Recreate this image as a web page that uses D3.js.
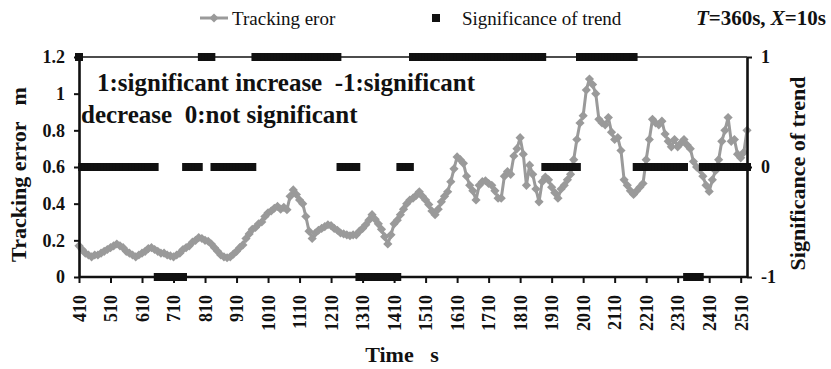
<!DOCTYPE html>
<html><head><meta charset="utf-8">
<script src="https://cdn.jsdelivr.net/npm/d3@7"></script>
<style>body{margin:0;background:#fff}svg{display:block}text{font-family:"Liberation Serif","Times New Roman",serif}</style>
</head><body><svg id="c" width="831" height="369"></svg>
<script>
const times = [
410,420,430,440,450,460,470,480,490,500,
510,520,530,540,550,560,570,580,590,600,
610,620,630,640,650,660,670,680,690,700,
710,720,730,740,750,760,770,780,790,800,
810,820,830,840,850,860,870,880,890,900,
910,920,930,940,950,960,970,980,990,1000,
1010,1020,1030,1040,1050,1060,1070,1080,1090,1100,
1110,1120,1130,1140,1150,1160,1170,1180,1190,1200,
1210,1220,1230,1240,1250,1260,1270,1280,1290,1300,
1310,1320,1330,1340,1350,1360,1370,1380,1390,1400,
1410,1420,1430,1440,1450,1460,1470,1480,1490,1500,
1510,1520,1530,1540,1550,1560,1570,1580,1590,1600,
1610,1620,1630,1640,1650,1660,1670,1680,1690,1700,
1710,1720,1730,1740,1750,1760,1770,1780,1790,1800,
1810,1820,1830,1840,1850,1860,1870,1880,1890,1900,
1910,1920,1930,1940,1950,1960,1970,1980,1990,2000,
2010,2020,2030,2040,2050,2060,2070,2080,2090,2100,
2110,2120,2130,2140,2150,2160,2170,2180,2190,2200,
2210,2220,2230,2240,2250,2260,2270,2280,2290,2300,
2310,2320,2330,2340,2350,2360,2370,2380,2390,2400,
2410,2420,2430,2440,2450,2460,2470,2480,2490,2500,
2510,2520,2530];

const trackingError = [
0.17,0.15,0.13,0.12,0.11,0.12,0.12,0.13,0.14,0.15,
0.16,0.17,0.18,0.17,0.16,0.14,0.13,0.12,0.11,0.12,
0.13,0.14,0.155,0.16,0.15,0.14,0.13,0.13,0.12,0.115,
0.11,0.12,0.13,0.15,0.16,0.17,0.19,0.20,0.215,0.21,
0.20,0.195,0.18,0.16,0.14,0.12,0.11,0.105,0.11,0.125,
0.14,0.16,0.175,0.21,0.235,0.26,0.27,0.29,0.30,0.33,
0.35,0.36,0.375,0.385,0.37,0.38,0.367,0.44,0.475,0.45,
0.42,0.40,0.33,0.25,0.21,0.24,0.255,0.265,0.275,0.285,
0.28,0.265,0.255,0.24,0.235,0.23,0.225,0.23,0.23,0.25,
0.265,0.285,0.31,0.34,0.315,0.29,0.26,0.22,0.18,0.23,
0.29,0.31,0.34,0.37,0.40,0.42,0.43,0.445,0.465,0.44,
0.42,0.395,0.36,0.34,0.37,0.41,0.44,0.465,0.52,0.59,
0.655,0.64,0.62,0.55,0.50,0.47,0.42,0.50,0.52,0.525,
0.51,0.50,0.47,0.43,0.43,0.55,0.575,0.56,0.66,0.70,
0.76,0.67,0.50,0.61,0.56,0.48,0.41,0.52,0.545,0.53,
0.49,0.46,0.43,0.48,0.50,0.53,0.56,0.64,0.75,0.84,
0.88,1.02,1.08,1.05,1.00,0.86,0.84,0.83,0.87,0.79,
0.75,0.76,0.69,0.53,0.50,0.47,0.45,0.47,0.49,0.51,
0.64,0.75,0.86,0.84,0.83,0.85,0.78,0.74,0.71,0.75,
0.71,0.73,0.75,0.72,0.70,0.63,0.60,0.585,0.55,0.50,
0.467,0.53,0.58,0.64,0.74,0.80,0.87,0.74,0.75,0.67,
0.65,0.68,0.80];

const significance = [
1,0,0,0,0,0,0,0,0,0,
0,0,0,0,0,0,0,0,0,0,
0,0,0,0,0,-1,-1,-1,-1,-1,
-1,-1,-1,-1,0,0,0,0,0,1,
1,1,1,0,0,0,0,0,0,0,
0,0,0,0,0,0,1,1,1,1,
1,1,1,1,1,1,1,1,1,1,
1,1,1,1,1,1,1,1,1,1,
1,1,1,0,0,0,0,0,0,-1,
-1,-1,-1,-1,-1,-1,-1,-1,-1,-1,
-1,-1,0,0,0,0,1,1,1,1,
1,1,1,1,1,1,1,1,1,1,
1,1,1,1,1,1,1,1,1,1,
1,1,1,1,1,1,1,1,1,1,
1,1,1,1,1,1,1,1,0,0,
0,0,0,0,0,0,0,0,0,1,
1,1,1,1,1,1,1,1,1,1,
1,1,1,1,1,1,1,0,0,0,
0,0,0,0,0,0,0,0,0,0,
0,0,0,-1,-1,-1,-1,-1,0,0,
0,0,0,0,0,0,0,0,0,0,
0,0,0];

const xTickValues = [410,510,610,710,810,910,1010,1110,1210,1310,1410,1510,1610,1710,1810,1910,2010,2110,2210,2310,2410,2510];
const yLeftTicks = [0,0.2,0.4,0.6,0.8,1,1.2];
const yLeftLabels = ["0","0.2","0.4","0.6","0.8","1","1.2"];
const yRightTicks = [-1,0,1];
const yRightLabels = ["-1","0","1"];
const legendLabels = ["Tracking eror","Significance of trend"];
const annotationLines = ["1:significant increase  -1:significant","decrease  0:not significant"];
const xTitle = "Time   s";
const yLeftTitle = "Tracking error   m";
const yRightTitle = "Significance of trend";

const svg = d3.select("#c");
const L = 79, R = 747, T = 57, B = 277;
const x = d3.scaleLinear().domain([410, 2530]).range([L, R]);
const yL = d3.scaleLinear().domain([0, 1.2]).range([B, T]);
const yR = d3.scaleLinear().domain([-1, 1]).range([B, T]);
const gray = "#9a9a9a", black = "#111111";
const diamond = "M0,-4.6L4.6,0L0,4.6L-4.6,0Z";

// top border
svg.append("line").attr("x1", L).attr("x2", R).attr("y1", T).attr("y2", T)
  .attr("stroke", black).attr("stroke-width", 1.5);

// tracking error series
const line = d3.line().x((d, i) => x(times[i])).y(d => yL(d));
svg.append("path").datum(trackingError).attr("d", line)
  .attr("fill", "none").attr("stroke", gray).attr("stroke-width", 3).attr("stroke-linejoin", "round");
svg.append("g").selectAll("path").data(trackingError).join("path")
  .attr("d", diamond).attr("fill", gray)
  .attr("transform", (d, i) => `translate(${x(times[i])},${yL(d)})`);

// significance series
svg.append("g").selectAll("rect").data(significance).join("rect")
  .attr("x", (d, i) => x(times[i]) - 4).attr("y", d => yR(d) - 4)
  .attr("width", 8).attr("height", 8).attr("fill", black);

function styleAxis(g) {
  g.select(".domain").attr("stroke", black).attr("stroke-width", 2.6);
  g.selectAll(".tick line").attr("stroke", black).attr("stroke-width", 2);
  g.selectAll("text").attr("font-size", 18).attr("font-weight", "bold").attr("fill", black)
    .attr("font-family", '"Liberation Serif","Times New Roman",serif');
}

// left axis
svg.append("g").attr("transform", `translate(${L},0)`)
  .call(d3.axisLeft(yL).tickValues(yLeftTicks).tickFormat((d, i) => yLeftLabels[i]).tickSize(5).tickSizeOuter(0).tickPadding(9))
  .call(styleAxis);

// right axis
svg.append("g").attr("transform", `translate(${R},0)`)
  .call(d3.axisRight(yR).tickValues(yRightTicks).tickFormat((d, i) => yRightLabels[i]).tickSize(5).tickSizeOuter(0).tickPadding(9))
  .call(styleAxis);

// bottom axis
const gx = svg.append("g").attr("transform", `translate(0,${B})`)
  .call(d3.axisBottom(x).tickValues(xTickValues).tickFormat(d => String(d)).tickSize(6).tickSizeOuter(0))
  .call(styleAxis);
gx.select(".domain").attr("d", `M${L},0H${R}`);
gx.selectAll(".tick text").attr("transform", "rotate(-90)").attr("x", -18).attr("y", 0)
  .attr("dy", "0.35em").attr("text-anchor", "end");

// axis titles
svg.append("text").attr("transform", "translate(26,174.5) rotate(-90)")
  .attr("text-anchor", "middle").attr("font-size", 22).attr("font-weight", "bold").attr("fill", black)
  .style("white-space", "pre").text(yLeftTitle);
svg.append("text").attr("transform", "translate(805,173.5) rotate(-90)")
  .attr("text-anchor", "middle").attr("font-size", 22).attr("font-weight", "bold").attr("fill", black)
  .style("white-space", "pre").text(yRightTitle);
svg.append("text").attr("x", 402).attr("y", 362)
  .attr("text-anchor", "middle").attr("font-size", 22).attr("font-weight", "bold").attr("fill", black)
  .style("white-space", "pre").text(xTitle);

// annotation
const annX = [97, 81], annY = [91, 123];
annotationLines.forEach((t, i) => {
  svg.append("text").attr("x", annX[i]).attr("y", annY[i]).attr("font-size", 25).attr("font-weight", "bold")
    .attr("fill", black).style("white-space", "pre").text(t);
});

// legend
const lg = svg.append("g");
lg.append("line").attr("x1", 200).attr("x2", 228).attr("y1", 18).attr("y2", 18).attr("stroke", gray).attr("stroke-width", 3);
lg.append("path").attr("d", diamond).attr("fill", gray).attr("transform", "translate(214,18)");
lg.append("text").attr("x", 232).attr("y", 18).attr("dy", "0.35em").attr("font-size", 19).attr("fill", black).text(legendLabels[0]);
lg.append("rect").attr("x", 432).attr("y", 14).attr("width", 8).attr("height", 8).attr("fill", black);
lg.append("text").attr("x", 462).attr("y", 18).attr("dy", "0.35em").attr("font-size", 19).attr("fill", black).text(legendLabels[1]);
const note = lg.append("text").attr("x", 826).attr("y", 18).attr("dy", "0.35em").attr("text-anchor", "end")
  .attr("font-size", 21).attr("font-weight", "bold").attr("fill", black).style("white-space", "pre");
note.append("tspan").attr("font-style", "italic").text("T");
note.append("tspan").text("=360s, ");
note.append("tspan").attr("font-style", "italic").text("X");
note.append("tspan").text("=10s");
</script></body></html>
